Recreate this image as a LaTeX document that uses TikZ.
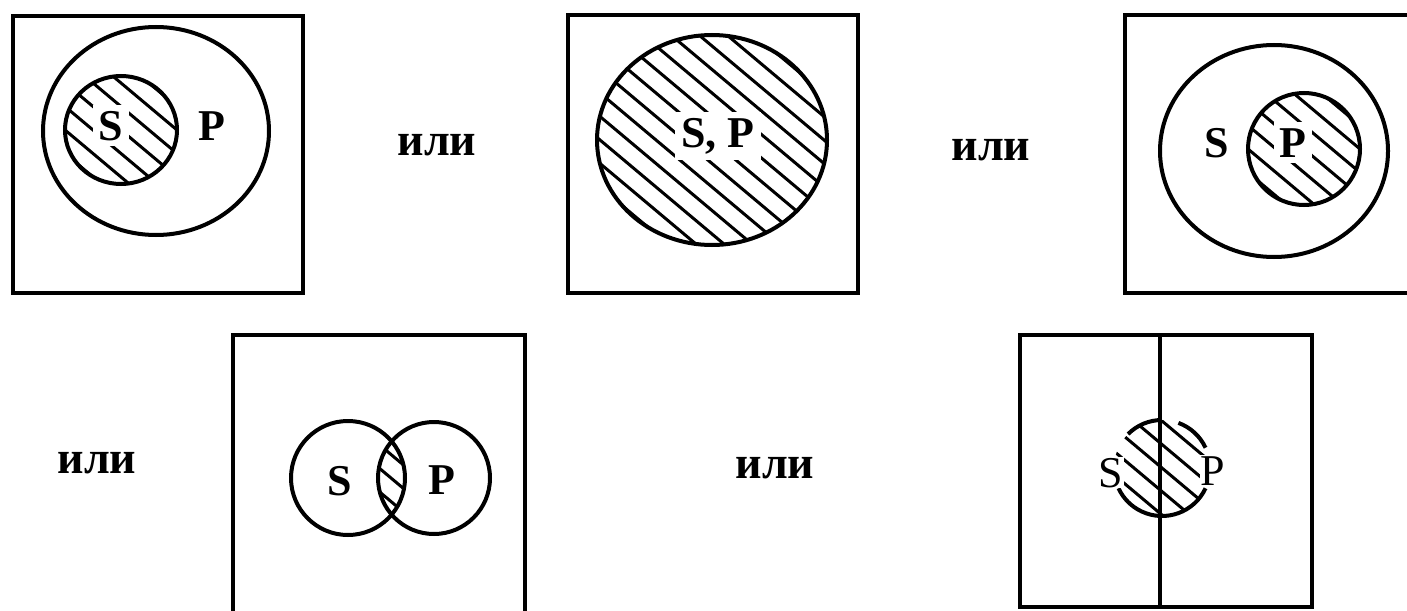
\documentclass[tikz,border=0pt]{standalone}
\usepackage{fontspec}
\setmainfont{Liberation Serif}
\tikzset{
  frame/.style={line width=4.5pt, line cap=rect},
  ring/.style={line width=4pt},
  hatchline/.style={line width=3pt},
  lbl/.style={anchor=base, inner sep=1pt, font=\bfseries\fontsize{44}{44}\selectfont},
  lblw/.style={lbl, fill=white, inner sep=6pt},
  lblr/.style={anchor=base, inner sep=1pt, font=\fontsize{44}{44}\selectfont},
  ili/.style={anchor=base, inner sep=0pt, font=\bfseries\fontsize{46}{46}\selectfont}
}
% hatch lines: centre x, centre y, half length, spacing
\newcommand{\hatchlines}[4]{%
  \foreach \k in {-14,...,14}{%
    \draw[hatchline] ({#1+\k*#4*(-0.643)-#3*0.766},{#2+\k*#4*0.766-#3*0.643}) -- ++({2*#3*0.766},{2*#3*0.643});
  }}
\begin{document}
\begin{tikzpicture}[x=1pt,y=-1pt]
\useasboundingbox (0,0) rectangle (1407,610);

% ---------- box 1 ----------
\draw[frame] (13,16) rectangle (303,293);
\begin{scope}
  \clip (121,130) ellipse [x radius=56, y radius=54];
  \hatchlines{121}{130}{90}{18}
\end{scope}
\draw[ring] (156,131) ellipse [x radius=113, y radius=104];
\draw[ring] (121,130) ellipse [x radius=56, y radius=54];
\node[lblw] (s1) at (111,140) {S};
\node[lbl] (p1) at (212,140) {P};

\node[ili] (or1) at (437,155) {или};

% ---------- box 2 ----------
\draw[frame] (568,15) rectangle (858,293);
\begin{scope}
  \clip (712,140) ellipse [x radius=115, y radius=105];
  \hatchlines{712}{140}{170}{18}
\end{scope}
\draw[ring] (712,140) ellipse [x radius=115, y radius=105];
\node[lblw] (sp2) at (718,147) {S, P};

\node[ili] (or2) at (991,160) {или};

% ---------- box 3 ----------
\draw[frame] (1410,15) -- (1125,15) -- (1125,293) -- (1410,293);
\begin{scope}
  \clip (1304,149) circle [radius=56];
  \hatchlines{1304}{149}{90}{18}
\end{scope}
\draw[ring] (1274,151) ellipse [x radius=114, y radius=106];
\draw[ring] (1304,149) circle [radius=56];
\node[lbl] (s3) at (1217,157) {S};
\node[lblw] (p3) at (1293,157) {P};

% ---------- box 4 ----------
\node[ili] (or3) at (97,473) {или};
\draw[frame] (233,614) -- (233,335) -- (525,335) -- (525,614);
\begin{scope}
  \clip (348,478) circle [radius=57];
  \clip (434,478) circle [radius=56];
  \hatchlines{391}{478}{70}{18}
\end{scope}
\draw[ring] (348,478) circle [radius=57];
\draw[ring] (434,478) circle [radius=56];
\node[lbl] (s4) at (340,495) {S};
\node[lbl] (p4) at (442,494) {P};

% ---------- box 5 ----------
\node[ili] (or4) at (775,478) {или};
\draw[frame] (1020,335) rectangle (1312,607);
\draw[frame] (1160,335) -- (1160,607);
\begin{scope}
  \clip (1162,468) circle [radius=48];
  \hatchlines{1162}{468}{80}{18}
\end{scope}
\draw[ring] (1162,468) ++(25:48) arc [start angle=25, end angle=155, radius=48];
\draw[ring] (1162,468) ++(225:48) arc [start angle=225, end angle=270, radius=48];
\draw[ring] (1162,468) ++(290:48) arc [start angle=290, end angle=335, radius=48];
\node[lblr, fill=white, inner sep=1pt] (s5) at (1111,487) {S};
\node[lblr, fill=white, inner sep=1pt] (p5) at (1213,485) {P};
\end{tikzpicture}
\end{document}
